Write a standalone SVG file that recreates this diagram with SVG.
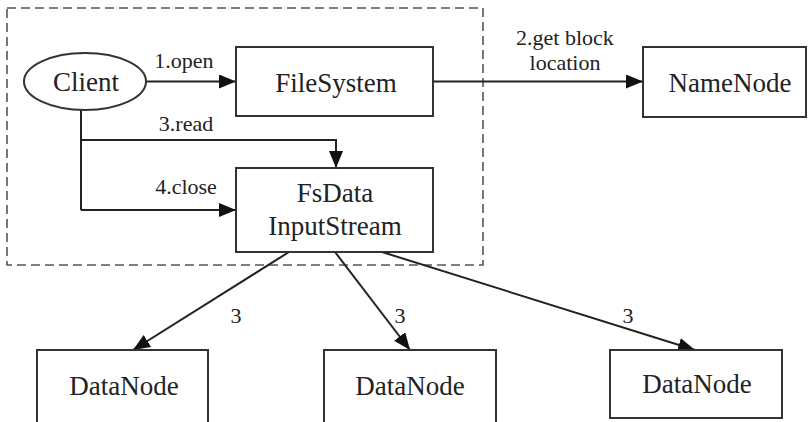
<svg xmlns="http://www.w3.org/2000/svg" width="808" height="422" viewBox="0 0 808 422">
<style>
  .box { fill: #fff; stroke: #333; stroke-width: 2; }
  .node { font-family: "Liberation Serif", "Times New Roman", serif; font-size: 27px; fill: #222; text-anchor: middle; }
  .lbl { font-family: "Liberation Serif", "Times New Roman", serif; font-size: 22px; fill: #222; text-anchor: middle; }
  .edge { fill: none; stroke: #222; stroke-width: 2; }
</style>
<defs>
  <marker id="arr" markerUnits="userSpaceOnUse" markerWidth="18" markerHeight="16" refX="17" refY="7" orient="auto">
    <path d="M0,0 L17,7 L0,14 z" fill="#111"/>
  </marker>
</defs>
<rect x="0" y="0" width="808" height="422" fill="#fff"/>
<rect id="boundary" x="7" y="8" width="476" height="257" fill="none" stroke="#555" stroke-width="1.6" stroke-dasharray="9,5"/>

<g id="connectors">
  <line class="edge" x1="146" y1="81.5" x2="236" y2="81.5" marker-end="url(#arr)"/>
  <line class="edge" x1="433" y1="81.5" x2="643" y2="81.5" marker-end="url(#arr)"/>
  <polyline class="edge" points="81,110 81,210"/>
  <polyline class="edge" points="81,140 336,140 336,168" marker-end="url(#arr)"/>
  <line class="edge" x1="81" y1="210" x2="236" y2="210" marker-end="url(#arr)"/>
  <line class="edge" x1="289" y1="252" x2="133" y2="350" marker-end="url(#arr)"/>
  <line class="edge" x1="335" y1="252" x2="410" y2="350" marker-end="url(#arr)"/>
  <line class="edge" x1="382" y1="252" x2="695" y2="350" marker-end="url(#arr)"/>
  <text class="lbl" x="184" y="68">1.open</text>
  <text class="lbl" x="565" y="45">2.get block</text>
  <text class="lbl" x="565" y="70">location</text>
  <text class="lbl" x="186" y="131">3.read</text>
  <text class="lbl" x="186" y="194">4.close</text>
  <text class="lbl" x="236" y="323">3</text>
  <text class="lbl" x="400" y="323">3</text>
  <text class="lbl" x="628" y="323">3</text>
</g>

<g id="client">
  <ellipse cx="85" cy="81.5" rx="61" ry="28.5" fill="#fff" stroke="#333" stroke-width="2"/>
  <text class="node" x="86" y="91">Client</text>
</g>
<g id="filesystem">
  <rect class="box" x="236" y="47" width="197" height="69"/>
  <text class="node" x="336" y="92">FileSystem</text>
</g>
<g id="fsdatainputstream">
  <rect class="box" x="236" y="168" width="197" height="84"/>
  <text class="node" x="335" y="202">FsData</text>
  <text class="node" x="335" y="235">InputStream</text>
</g>
<g id="namenode">
  <rect class="box" x="643" y="47" width="163" height="70"/>
  <text class="node" x="730" y="92">NameNode</text>
</g>
<g id="datanode1">
  <rect class="box" x="37" y="350" width="171" height="80"/>
  <text class="node" x="124" y="395">DataNode</text>
</g>
<g id="datanode2">
  <rect class="box" x="324" y="350" width="172" height="80"/>
  <text class="node" x="410" y="395">DataNode</text>
</g>
<g id="datanode3">
  <rect class="box" x="610" y="350" width="172" height="68"/>
  <text class="node" x="697" y="393">DataNode</text>
</g>
</svg>
